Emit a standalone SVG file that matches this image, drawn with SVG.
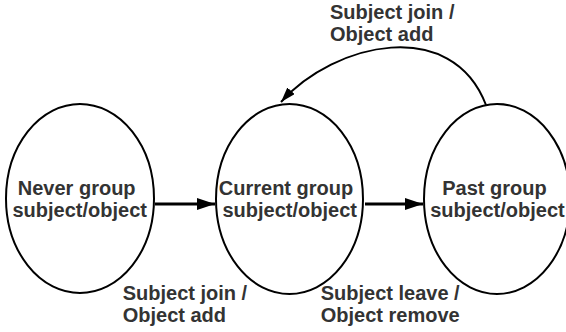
<svg xmlns="http://www.w3.org/2000/svg" width="566" height="332" viewBox="0 0 566 332">
  <style>
    .state { fill: #ffffff; stroke: #000000; stroke-width: 2; }
    .label { font-family: "Liberation Sans", Arial, sans-serif; font-weight: bold; font-size: 20px; fill: #333333; }
    .mid { text-anchor: middle; }
    .edge { fill: none; stroke: #000000; }
  </style>
  <defs>
    <marker id="arrow" viewBox="0 0 6 4" refX="6" refY="2" markerWidth="6" markerHeight="4" orient="auto" markerUnits="strokeWidth">
      <path d="M0,0 L6,2 L0,4 Z" fill="#000000"/>
    </marker>
    <marker id="arrow-thin" viewBox="0 0 7.5 5" refX="7.5" refY="2.5" markerWidth="7.5" markerHeight="5" orient="auto" markerUnits="strokeWidth">
      <path d="M0,0 L7.5,2.5 L0,5 Z" fill="#000000"/>
    </marker>
  </defs>

  <g id="node-never">
    <ellipse class="state" cx="80" cy="198.5" rx="74" ry="94.5"/>
    <text class="label mid" x="76.7" y="195">Never group</text>
    <text class="label mid" x="79.7" y="217">subject/object</text>
  </g>

  <g id="node-current">
    <ellipse class="state" cx="289.5" cy="199" rx="73.5" ry="95"/>
    <text class="label mid" x="286" y="195">Current group</text>
    <text class="label mid" x="289.7" y="217">subject/object</text>
  </g>

  <g id="node-past">
    <ellipse class="state" cx="497" cy="199" rx="73" ry="95"/>
    <text class="label mid" x="494.5" y="195">Past group</text>
    <text class="label mid" x="497.5" y="217">subject/object</text>
  </g>

  <g id="connectors">
    <line class="edge" x1="155" y1="204" x2="215" y2="204" stroke-width="3" marker-end="url(#arrow)"/>
    <line class="edge" x1="365" y1="204" x2="423" y2="204" stroke-width="3" marker-end="url(#arrow)"/>
    <path class="edge" d="M486,105 C452,16 335,42 281,102" stroke-width="2" marker-end="url(#arrow-thin)"/>
  </g>

  <g id="edge-labels">
    <text class="label" x="330" y="18.5">Subject join /</text>
    <text class="label" x="330" y="40.5">Object add</text>
    <text class="label" x="122.7" y="300">Subject join /</text>
    <text class="label" x="122.7" y="322">Object add</text>
    <text class="label" x="320.7" y="300">Subject leave /</text>
    <text class="label" x="320.7" y="322">Object remove</text>
  </g>
</svg>
